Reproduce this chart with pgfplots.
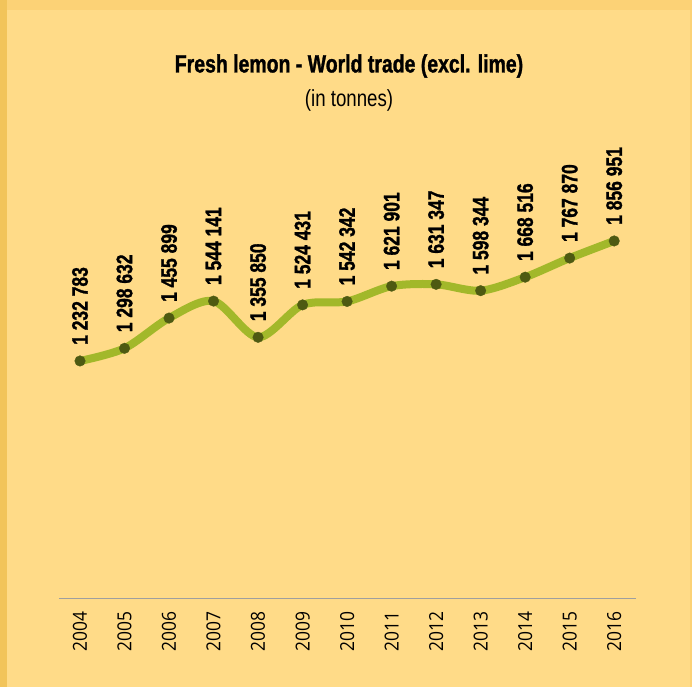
\documentclass[border=0pt]{standalone}
\usepackage{pgfplots}
\pgfplotsset{compat=1.18}
\usepackage{fontspec}
\setmainfont[FakeStretch=0.8]{Liberation Sans}
\newfontfamily\condbold[FakeStretch=0.78,FakeBold=1.2]{Liberation Sans Bold}
\newfontfamily\tickfont[FakeStretch=0.9]{Open Sans}
\definecolor{bgouter}{HTML}{FCD276}
\definecolor{bgstrip}{HTML}{F2C45A}
\definecolor{panel}{HTML}{FFDB88}
\definecolor{linec}{HTML}{A2B82A}
\definecolor{markc}{HTML}{4E5A12}
\begin{document}
\begin{tikzpicture}
\fill[bgouter] (-44.25pt,-66.75pt) rectangle (474.75pt,448.5pt);
\fill[bgstrip] (-44.25pt,-66.75pt) rectangle (-39pt,448.5pt);
\fill[panel] (-39pt,-66.75pt) rectangle (473.25pt,441pt);
\node[font=\condbold\fontsize{18.7}{20}\selectfont] at (217.5pt,399pt) {Fresh lemon - World trade (excl. lime)};
\node[font=\fontsize{17.5}{19}\selectfont] at (217.5pt,373.5pt) {(in tonnes)};
\begin{axis}[
  at={(0,0)}, anchor=south west, scale only axis,
  width=432.75pt, height=346.1pt,
  xmin=-0.472, xmax=12.49, ymin=0, ymax=2400000,
  axis x line=bottom, axis y line=none,
  x axis line style={draw=gray!75, line width=0.7pt, -},
  xtick={0,...,12},
  xticklabels={2004,2005,2006,2007,2008,2009,2010,2011,2012,2013,2014,2015,2016},
  major tick length=0pt,
  xtick style={draw=none},
  ytick=\empty,
  tick label style={rotate=90, anchor=east, inner xsep=10pt, font=\tickfont\fontsize{14.5}{16}\selectfont},
  clip=false,
]
\addplot[color=linec, line width=6pt, smooth, no marks]
coordinates {
(0,1232783) (1,1298632) (2,1455899) (3,1544141) (4,1355850) (5,1524431) (6,1542342)
(7,1621901) (8,1631347) (9,1598344) (10,1668516) (11,1767870) (12,1856951)
};
\addplot[only marks, mark=*, mark size=4pt, mark options={fill=markc, draw=markc, line width=0.2pt},
  point meta=explicit symbolic, nodes near coords,
  nodes near coords style={rotate=90, anchor=west, inner xsep=12pt, text=black, font=\condbold\fontsize{16.8}{18}\selectfont}]
coordinates {
(0,1232783) [1 232 783]
(1,1298632) [1 298 632]
(2,1455899) [1 455 899]
(3,1544141) [1 544 141]
(4,1355850) [1 355 850]
(5,1524431) [1 524 431]
(6,1542342) [1 542 342]
(7,1621901) [1 621 901]
(8,1631347) [1 631 347]
(9,1598344) [1 598 344]
(10,1668516) [1 668 516]
(11,1767870) [1 767 870]
(12,1856951) [1 856 951]
};
\end{axis}
\end{tikzpicture}
\end{document}
